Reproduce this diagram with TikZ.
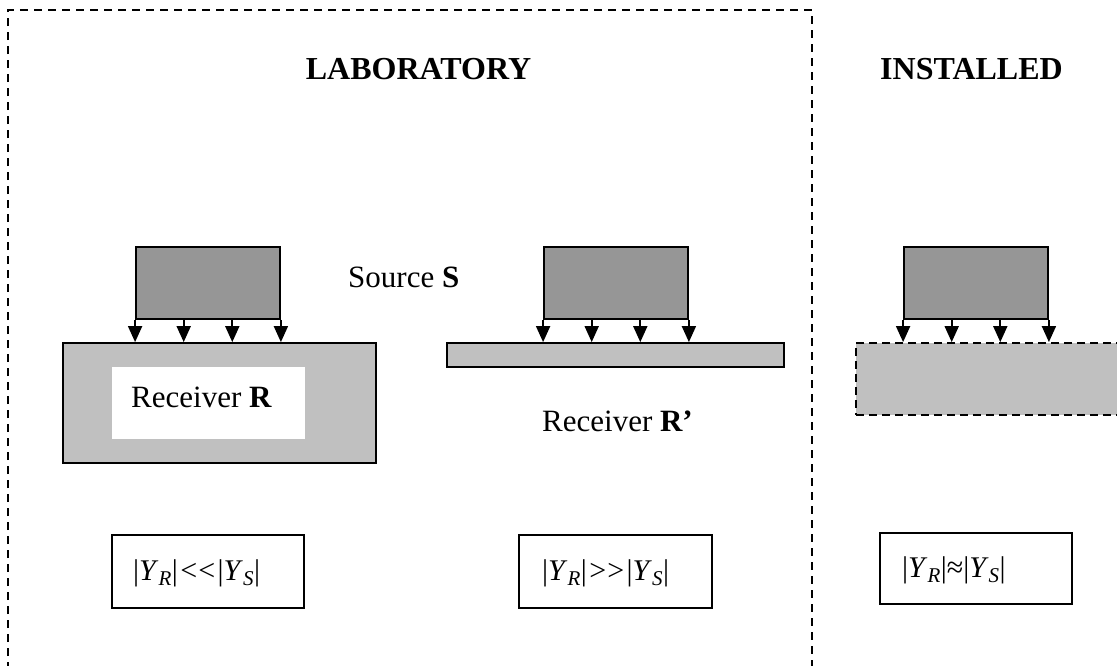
\documentclass[tikz,border=0pt]{standalone}
\usepackage{fontspec}
\setmainfont{Liberation Serif}
\usetikzlibrary{arrows.meta,calc}
\begin{document}
\begin{tikzpicture}[x=1pt,y=-1pt,
  frame/.style={line width=2pt, dash pattern=on 8pt off 6pt},
  srcbox/.style={draw, line width=1.8pt, fill=srcgray, minimum width=144pt, minimum height=72pt, inner sep=0pt},
  rcvbox/.style={draw, line width=1.8pt, fill=rcvgray, inner sep=0pt},
  force/.style={line width=1.8pt, -{Triangle[width=14pt,length=16pt]}},
  lbl/.style={anchor=base west, inner sep=0pt, font=\fontsize{31}{36}\selectfont},
  title/.style={anchor=base, inner sep=0pt, font=\fontsize{32}{38}\selectfont\bfseries},
  eqbox/.style={draw, line width=2pt, inner sep=0pt},
  eqtxt/.style={anchor=base west, inner sep=0pt, font=\fontsize{30}{34}\selectfont}
]
\definecolor{srcgray}{HTML}{969696}
\definecolor{rcvgray}{HTML}{C0C0C0}
\useasboundingbox (0,0) rectangle (1117,665);

% laboratory frame
\coordinate (fbl) at (8,670);
\coordinate (ftl) at (8,10);
\coordinate (ftr) at (812,10);
\coordinate (fbr) at (812,670);
\draw[frame] (fbl) -- (ftl) -- (ftr) -- (fbr);

% titles
\node[title] (lab) at (418.5,79) {LABORATORY};
\node[title] (ins) at (971.5,79) {INSTALLED};

% receivers
\node[rcvbox, minimum width=313pt, minimum height=120pt] (r1) at (219.5,403) {};
\node[fill=white, minimum width=193pt, minimum height=72pt, inner sep=0pt] (r1in) at (208.5,403) {};
\node[lbl] (r1t) at (131,407) {Receiver \textbf{R}};

\node[rcvbox, minimum width=337pt, minimum height=24pt] (r2) at (615.5,355) {};
\node[lbl] (r2t) at (542,431) {Receiver \textbf{R’}};

\node[fill=rcvgray, draw, line width=1.8pt, dash pattern=on 8pt off 5pt, minimum width=280pt, minimum height=72pt, inner sep=0pt] (r3) at (996,379) {};

% sources
\node[srcbox] (s1) at (208,283) {};
\node[srcbox] (s2) at (616,283) {};
\node[srcbox] (s3) at (976,283) {};
\node[lbl] (st) at (348,287) {Source \textbf{S}};

% force arrows
\foreach \s/\r in {s1/r1, s2/r2, s3/r3}{
  \foreach \f in {0,1,2,3}{
    \coordinate (a) at ($(\s.south west)!\f/3!(\s.south east)$);
    \draw[force] (a) -- (a |- \r.north);
  }
}

% admittance boxes
\node[eqbox, minimum width=192pt, minimum height=73pt] (e1) at (208,571.5) {};
\node[eqtxt] (e1t) at (133,580) {|\textit{Y}\textsubscript{\textit{R}}|\kern2.5pt<\kern1pt<\kern2.5pt|\textit{Y}\textsubscript{\textit{S}}|};
\node[eqbox, minimum width=193pt, minimum height=73pt] (e2) at (615.5,571.5) {};
\node[eqtxt] (e2t) at (542,580) {|\textit{Y}\textsubscript{\textit{R}}|\kern2.5pt>\kern1pt>\kern2.5pt|\textit{Y}\textsubscript{\textit{S}}|};
\node[eqbox, minimum width=192pt, minimum height=71pt] (e3) at (976,568.5) {};
\node[eqtxt] (e3t) at (902,577) {|\textit{Y}\textsubscript{\textit{R}}|≈|\textit{Y}\textsubscript{\textit{S}}|};
\end{tikzpicture}
\end{document}
